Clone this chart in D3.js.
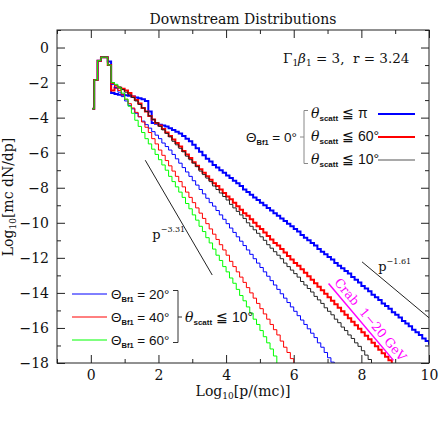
<!DOCTYPE html>
<html><head><meta charset="utf-8">
<script src="https://cdn.jsdelivr.net/npm/d3@7"></script>
<style>body{margin:0;background:#fff} svg{display:block} text{white-space:pre}</style>
</head><body><svg id="c" width="443" height="423"></svg>
<script>
// ---- data: log10 dN/dp histograms, bins of width 0.1 in log10 p, first bin centred at 0.05 ----
const binStart = 0.05, binWidth = 0.1;
const theta0_scattPi = [-3.5,-1.85,-0.75,-0.55,-0.55,-0.8,-2.6,-2.65,-2.7,-2.7,
 -2.72,-2.75,-2.8,-2.85,-2.9,-2.95,-3.05,-3.65,-4.3,-4.35,
 -4.4,-4.45,-4.5,-4.6,-4.7,-4.8,-4.9,-5.05,-5.2,-5.35,
 -5.55,-5.75,-5.95,-6.15,-6.35,-6.5,-6.7,-6.85,-7.0,-7.15,
 -7.3,-7.45,-7.6,-7.75,-7.9,-8.1,-8.25,-8.4,-8.55,-8.7,
 -8.85,-9.0,-9.15,-9.3,-9.45,-9.6,-9.75,-9.9,-10.05,-10.2,
 -10.35,-10.5,-10.7,-10.85,-11.0,-11.15,-11.3,-11.5,-11.65,-11.8,
 -11.95,-12.1,-12.3,-12.45,-12.6,-12.75,-12.9,-13.1,-13.25,-13.4,
 -13.6,-13.75,-13.9,-14.1,-14.25,-14.4,-14.6,-14.75,-14.9,-15.1,
 -15.25,-15.4,-15.6,-15.75,-15.9,-16.1,-16.25,-16.4,-16.6,-16.75,-16.9];
const theta0_scatt60 = [-3.5,-1.85,-0.75,-0.55,-0.55,-1.0,-2.45,-2.3,-2.3,-2.35,
 -2.45,-2.6,-2.8,-3.0,-3.2,-3.45,-3.65,-3.9,-4.1,-4.3,
 -4.45,-4.65,-4.85,-5.05,-5.25,-5.45,-5.65,-5.9,-6.1,-6.3,
 -6.55,-6.75,-6.95,-7.15,-7.35,-7.55,-7.75,-7.9,-8.1,-8.3,
 -8.5,-8.65,-8.85,-9.05,-9.25,-9.45,-9.6,-9.8,-10.0,-10.2,
 -10.35,-10.55,-10.75,-10.95,-11.15,-11.3,-11.5,-11.7,-11.9,-12.1,
 -12.3,-12.45,-12.65,-12.85,-13.05,-13.25,-13.45,-13.65,-13.85,-14.05,
 -14.25,-14.45,-14.65,-14.85,-15.05,-15.25,-15.45,-15.65,-15.85,-16.05,
 -16.25,-16.45,-16.65,-16.85,-17.05,-17.25,-17.45,-17.65,-17.85,-18.3];
const theta0_scatt10 = [-3.5,-1.85,-0.75,-0.55,-0.55,-1.0,-2.0,-2.15,-2.25,-2.4,
 -2.55,-2.7,-2.85,-3.05,-3.25,-3.45,-3.65,-3.9,-4.1,-4.3,
 -4.5,-4.7,-4.9,-5.1,-5.35,-5.55,-5.75,-5.95,-6.2,-6.4,
 -6.6,-6.8,-7.05,-7.25,-7.45,-7.65,-7.9,-8.1,-8.3,-8.5,
 -8.7,-8.95,-9.15,-9.35,-9.55,-9.75,-10.0,-10.2,-10.4,-10.6,
 -10.8,-11.0,-11.25,-11.45,-11.65,-11.85,-12.05,-12.3,-12.5,-12.7,
 -12.9,-13.1,-13.35,-13.55,-13.75,-13.95,-14.2,-14.4,-14.6,-14.85,
 -15.05,-15.25,-15.5,-15.7,-15.95,-16.15,-16.4,-16.6,-16.85,-17.05,
 -17.3,-17.55,-17.8,-18.3];
const theta20_scatt10 = [-3.5,-1.85,-0.75,-0.55,-0.55,-1.0,-2.1,-2.3,-2.55,-2.8,
 -3.05,-3.3,-3.5,-3.75,-3.95,-4.2,-4.4,-4.6,-4.8,-5.0,
 -5.2,-5.45,-5.65,-5.85,-6.1,-6.35,-6.6,-6.85,-7.1,-7.35,
 -7.6,-7.85,-8.1,-8.35,-8.6,-8.85,-9.05,-9.3,-9.55,-9.8,
 -10.05,-10.3,-10.55,-10.8,-11.05,-11.3,-11.55,-11.8,-12.05,-12.3,
 -12.55,-12.8,-13.05,-13.3,-13.55,-13.8,-14.05,-14.3,-14.55,-14.8,
 -15.05,-15.3,-15.55,-15.8,-16.05,-16.3,-16.55,-16.85,-17.1,-17.4,
 -17.7,-17.95,-18.3];
const theta40_scatt10 = [-3.5,-1.85,-0.75,-0.55,-0.55,-1.0,-2.05,-2.2,-2.45,-2.7,
 -2.95,-3.2,-3.45,-3.7,-3.95,-4.25,-4.55,-4.85,-5.2,-5.5,
 -5.85,-6.15,-6.45,-6.75,-7.05,-7.35,-7.65,-7.95,-8.25,-8.55,
 -8.85,-9.15,-9.45,-9.75,-10.05,-10.35,-10.65,-10.95,-11.25,-11.55,
 -11.85,-12.2,-12.5,-12.8,-13.1,-13.4,-13.7,-14.0,-14.3,-14.6,
 -14.9,-15.2,-15.5,-15.8,-16.1,-16.4,-16.75,-17.1,-17.4,-17.75,-18.3];
const theta60_scatt10 = [-3.5,-1.85,-0.75,-0.55,-0.55,-1.0,-2.0,-2.1,-2.3,-2.6,
 -2.95,-3.35,-3.75,-4.15,-4.5,-4.85,-5.2,-5.5,-5.8,-6.1,
 -6.4,-6.7,-7.0,-7.35,-7.65,-7.95,-8.25,-8.55,-8.9,-9.2,
 -9.55,-9.85,-10.2,-10.5,-10.85,-11.15,-11.5,-11.85,-12.15,-12.5,
 -12.8,-13.15,-13.45,-13.8,-14.15,-14.45,-14.8,-15.15,-15.5,-15.8,
 -16.15,-16.5,-16.85,-17.2,-17.6,-18.3];

// reference power laws and Crab band: [x0, y0], [x1, y1] in data units
const powerLaw331 = [[1.61, -6.43], [3.59, -12.98]];
const powerLaw161 = [[8.02, -12.23], [10.0, -15.42]];
const crabLine = [[7.03, -13.46], [8.95, -17.85]];

const xMajorTicks = [0, 2, 4, 6, 8, 10];
const xMinorTicks = [-1, 1, 3, 5, 7, 9];
const yMajorTicks = [0, -2, -4, -6, -8, -10, -12, -14, -16, -18];
const yMinorTicks = [1, -1, -3, -5, -7, -9, -11, -13, -15, -17];

// ---- layout ----
const L = 57, R = 429, T = 30, B = 363;
const svg = d3.select("#c");
const x = d3.scaleLinear().domain([-1, 10]).range([L, R]);
const y = d3.scaleLinear().domain([-18, 1]).range([B, T]);
const serif = "DejaVu Serif", sans = "Liberation Sans";
const ink = "#222";

svg.append("clipPath").attr("id", "clip").append("rect")
  .attr("x", L).attr("y", T).attr("width", R - L).attr("height", B - T);

// series
const series = [
  {v: theta0_scattPi, c: "#0000ff", w: 2},
  {v: theta0_scatt60, c: "#ff0000", w: 2},
  {v: theta0_scatt10, c: "#222222", w: 1},
  {v: theta20_scatt10, c: "#0000ff", w: 1},
  {v: theta40_scatt10, c: "#ff0000", w: 1},
  {v: theta60_scatt10, c: "#00ff00", w: 1}
];
const step = d3.line().curve(d3.curveStep)
  .x((d, i) => x(binStart + i * binWidth)).y(d => y(d));
const gp = svg.append("g").attr("clip-path", "url(#clip)");
series.forEach(s => gp.append("path").attr("d", step(s.v))
  .attr("fill", "none").attr("stroke", s.c).attr("stroke-width", s.w));

const seg = d3.line().x(d => x(d[0])).y(d => y(d[1]));
gp.append("path").attr("d", seg(powerLaw331)).attr("stroke", ink).attr("stroke-width", 1).attr("fill", "none");
gp.append("path").attr("d", seg(powerLaw161)).attr("stroke", ink).attr("stroke-width", 1).attr("fill", "none");
gp.append("path").attr("d", seg(crabLine)).attr("stroke", "#ff00ff").attr("stroke-width", 1.5).attr("fill", "none");

// axes
function styleAxis(g) {
  g.select(".domain").remove();
  g.selectAll("line").attr("stroke", ink);
  g.selectAll("text").attr("font-family", serif).attr("font-size", 14).attr("fill", "#111");
}
const fmt = d3.format("d");
svg.append("g").attr("transform", `translate(0,${B})`)
  .call(d3.axisBottom(x).tickValues(xMajorTicks).tickSize(-8).tickPadding(7).tickFormat(fmt)).call(styleAxis);
svg.append("g").attr("transform", `translate(0,${B})`)
  .call(d3.axisBottom(x).tickValues(xMinorTicks).tickSize(-4).tickFormat("")).call(styleAxis);
svg.append("g").attr("transform", `translate(0,${T})`)
  .call(d3.axisTop(x).tickValues(xMajorTicks).tickSize(-8).tickFormat("")).call(styleAxis);
svg.append("g").attr("transform", `translate(0,${T})`)
  .call(d3.axisTop(x).tickValues(xMinorTicks).tickSize(-4).tickFormat("")).call(styleAxis);
svg.append("g").attr("transform", `translate(${L},0)`)
  .call(d3.axisLeft(y).tickValues(yMajorTicks).tickSize(-8).tickPadding(8).tickFormat(fmt)).call(styleAxis);
svg.append("g").attr("transform", `translate(${L},0)`)
  .call(d3.axisLeft(y).tickValues(yMinorTicks).tickSize(-4).tickFormat("")).call(styleAxis);
svg.append("g").attr("transform", `translate(${R},0)`)
  .call(d3.axisRight(y).tickValues(yMajorTicks).tickSize(-8).tickFormat("")).call(styleAxis);
svg.append("g").attr("transform", `translate(${R},0)`)
  .call(d3.axisRight(y).tickValues(yMinorTicks).tickSize(-4).tickFormat("")).call(styleAxis);

svg.append("rect").attr("x", L).attr("y", T).attr("width", R - L).attr("height", B - T)
  .attr("fill", "none").attr("stroke", ink).attr("stroke-width", 1);

// titles
svg.append("text").attr("x", 243).attr("y", 24).attr("text-anchor", "middle")
  .attr("font-family", serif).attr("font-size", 14).attr("fill", "#111").text("Downstream Distributions");

const xt = svg.append("text").attr("x", 243).attr("y", 396).attr("text-anchor", "middle")
  .attr("font-family", serif).attr("font-size", 14).attr("fill", "#111");
xt.append("tspan").text("Log");
xt.append("tspan").attr("font-size", 9).attr("dy", 3).text("10");
xt.append("tspan").attr("dy", -3).text("[p/(mc)]");

const yt = svg.append("text").attr("transform", "translate(13,197) rotate(-90)").attr("text-anchor", "middle")
  .attr("font-family", serif).attr("font-size", 14).attr("fill", "#111");
yt.append("tspan").text("Log");
yt.append("tspan").attr("font-size", 9).attr("dy", 3).text("10");
yt.append("tspan").attr("dy", -3).text("[mc dN/dp]");

// parameters
const pt = svg.append("text").attr("x", 283).attr("y", 63)
  .attr("font-family", serif).attr("font-size", 13.5).attr("fill", "#111");
pt.append("tspan").text("Γ");
pt.append("tspan").attr("font-size", 9).attr("dy", 3).text("1");
pt.append("tspan").attr("dy", -3).attr("font-style", "italic").text("β");
pt.append("tspan").attr("font-size", 9).attr("dy", 3).text("1");
pt.append("tspan").attr("dy", -3).text(" = 3,  r = 3.24");

// power-law labels
function powLabel(px, py, exp) {
  const t = svg.append("text").attr("x", px).attr("y", py)
    .attr("font-family", serif).attr("font-size", 13).attr("fill", "#111");
  t.append("tspan").text("p");
  t.append("tspan").attr("font-size", 8).attr("dy", -7).text(exp);
}
powLabel(x(1.82), y(-10.9), "−3.31");
powLabel(x(8.5), y(-12.75), "−1.61");

// Crab label along line
const c0 = [x(crabLine[0][0]), y(crabLine[0][1])], c1 = [x(crabLine[1][0]), y(crabLine[1][1])];
const ang = Math.atan2(c1[1] - c0[1], c1[0] - c0[0]) * 180 / Math.PI;
const cm = [(c0[0] + c1[0]) / 2, (c0[1] + c1[1]) / 2];
const nx = Math.sin(ang * Math.PI / 180), ny = -Math.cos(ang * Math.PI / 180);
svg.append("text").attr("transform", `translate(${cm[0] + nx * 4 + 3},${cm[1] + ny * 4 + 3}) rotate(${ang})`)
  .attr("text-anchor", "middle").attr("font-family", serif).attr("font-size", 12.5).attr("fill", "#ff00ff")
  .text("Crab  1−20 GeV");

// legend helper
function thetaB(g, px, py, val, fs) {
  const t = g.append("text").attr("x", px).attr("y", py).attr("font-family", sans).attr("font-size", fs).attr("fill", "#111");
  t.append("tspan").text("Θ");
  t.append("tspan").attr("font-size", 7.5).attr("font-weight", "bold").attr("dy", 3).text("Bf1");
  t.append("tspan").attr("dy", -3).text(" = " + val);
}
function thetaS(g, px, py, val) {
  const t = g.append("text").attr("x", px).attr("y", py).attr("font-family", sans).attr("font-size", 14).attr("fill", "#111");
  t.append("tspan").attr("font-style", "italic").attr("font-family", serif).text("θ");
  t.append("tspan").attr("font-size", 8).attr("font-weight", "bold").attr("dy", 3).text("scatt");
  t.append("tspan").attr("dy", -3).text(" ≦ " + val);
}
const lg = svg.append("g");
// top-right legend
thetaB(lg, 246, 142, "0°", 13.5);
lg.append("path").attr("d", "M308,110.5H304V163.5H308M304,137H300").attr("fill", "none").attr("stroke", "#888");
const rightRows = [
  {lab: "π", c: "#0000ff", w: 2, yy: 114},
  {lab: "60°", c: "#ff0000", w: 2, yy: 137},
  {lab: "10°", c: "#555555", w: 1.2, yy: 160}
];
rightRows.forEach(r => {
  thetaS(lg, 311, r.yy + 4, r.lab);
  lg.append("line").attr("x1", 378).attr("x2", 415).attr("y1", r.yy).attr("y2", r.yy)
    .attr("stroke", r.c).attr("stroke-width", r.w);
});
// bottom-left legend
const leftRows = [
  {lab: "20°", c: "#0000ff", yy: 294},
  {lab: "40°", c: "#ff0000", yy: 317},
  {lab: "60°", c: "#00ff00", yy: 340}
];
leftRows.forEach(r => {
  lg.append("line").attr("x1", 72).attr("x2", 107).attr("y1", r.yy).attr("y2", r.yy)
    .attr("stroke", r.c).attr("stroke-width", 1);
  thetaB(lg, 111, r.yy + 5, r.lab, 13.5);
});
lg.append("path").attr("d", "M173,290.5H178V342.5H173M178,317H182").attr("fill", "none").attr("stroke", "#333");
thetaS(lg, 185, 322, "10°");
</script></body></html>
